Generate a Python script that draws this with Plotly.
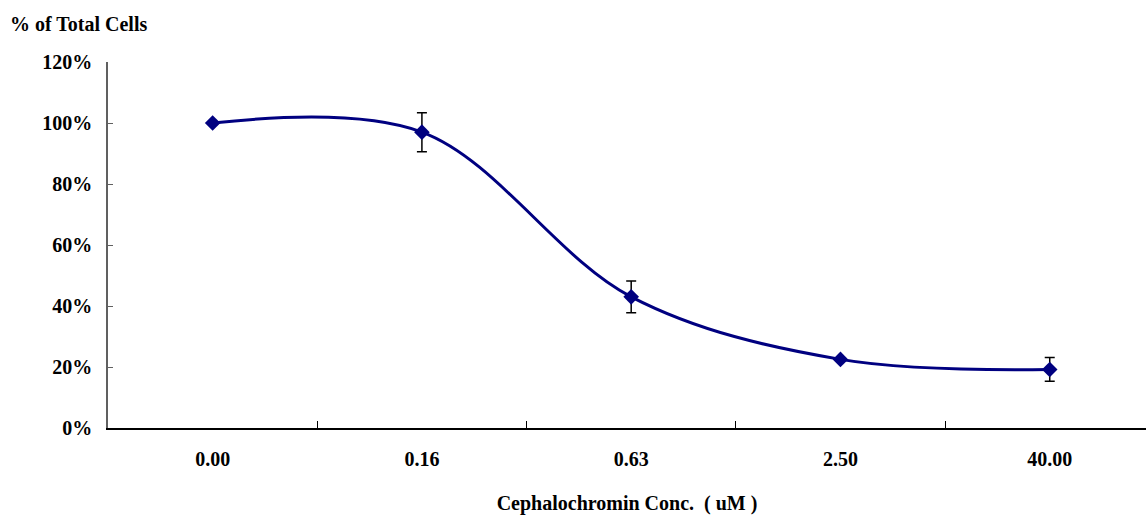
import plotly.graph_objects as go

categories = ["0.00", "0.16", "0.63", "2.50", "40.00"]
values = [100.0, 97.0, 43.0, 22.5, 19.2]
errors = [0.0, 6.4, 5.2, 0.0, 3.9]
y_ticks = [0, 20, 40, 60, 80, 100, 120]
y_tick_labels = ["0%", "20%", "40%", "60%", "80%", "100%", "120%"]

FONT = "Liberation Serif"
NAVY = "#000080"

fig = go.Figure()
fig.add_trace(go.Scatter(
    x=categories, y=values,
    mode="lines+markers",
    line=dict(color=NAVY, width=3, shape="spline", smoothing=1.0),
    marker=dict(symbol="diamond", size=12, color=NAVY),
    error_y=dict(type="data", array=errors, visible=True, color="black",
                 thickness=1.5, width=5),
    showlegend=False,
))

fig.update_layout(
    width=1146, height=515,
    margin=dict(l=108, r=0, t=62, b=87),
    paper_bgcolor="white", plot_bgcolor="white",
    font=dict(family=FONT, size=20, color="black"),
    xaxis=dict(
        type="category", range=[-0.5, 4.46],
        showline=True, linecolor="black", linewidth=2,
        ticks="inside", tickson="boundaries", ticklen=7, tickcolor="black", tickwidth=1,
        showgrid=False, zeroline=False,
        tickfont=dict(family=FONT, size=20, color="black", weight="bold"),
        ticklabelstandoff=12,
        title=dict(text="<b>Cephalochromin Conc.  ( uM )</b>",
                   font=dict(family=FONT, size=20, color="black"), standoff=29),
    ),
    yaxis=dict(
        range=[0, 120], tickvals=y_ticks, ticktext=y_tick_labels,
        showline=True, linecolor="#606060", linewidth=1.5,
        ticks="inside", ticklen=5, tickcolor="#606060", tickwidth=1,
        showgrid=False, zeroline=False,
        tickfont=dict(family=FONT, size=20, color="black", weight="bold"),
        ticklabelstandoff=10,
    ),
    annotations=[dict(
        text="<b>% of Total Cells</b>", xref="paper", yref="paper",
        x=-100/1038, y=1 + 38/366, xanchor="left", yanchor="middle",
        showarrow=False, font=dict(family=FONT, size=20, color="black"),
    )],
)

fig.write_html("out.html")
